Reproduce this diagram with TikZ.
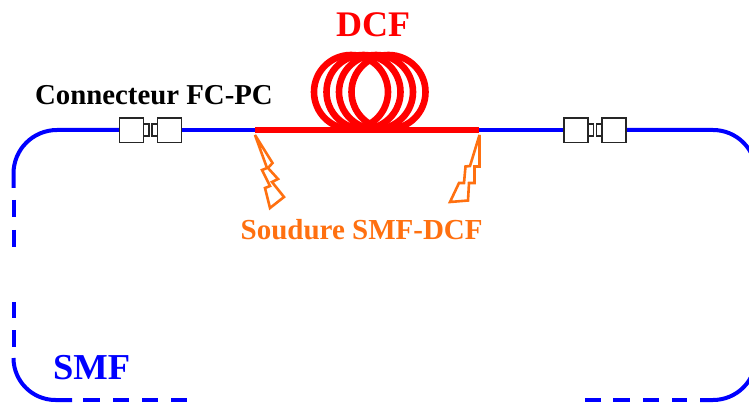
\documentclass[tikz,border=0pt]{standalone}
\usepackage{fontspec}
\setmainfont{Liberation Serif}
\definecolor{fib}{RGB}{0,0,255}
\definecolor{org}{RGB}{255,112,16}
\tikzset{
  smf/.style={draw=fib,line width=4pt},
  dcf/.style={draw=red,line width=6pt},
  conn/.style={draw=black!85,line width=1.3pt,fill=white},
  bolt/.style={draw=org,line width=2.6pt,line join=miter,miter limit=3},
  lab/.style={inner sep=0pt,anchor=base west,font=\bfseries}
}
\newcommand{\connector}[1]{%
  \begin{scope}[shift={(#1,0)}]
  \draw[conn] (0,118) rectangle (24,142.5);
  \draw[conn] (24,124) rectangle (29.7,136);
  \draw[conn] (32.7,124) rectangle (38,136);
  \draw[conn] (38,118) rectangle (62,142.5);
  \end{scope}}
\begin{document}
\begin{tikzpicture}[x=1pt,y=-1pt]
\useasboundingbox (0,0) rectangle (749,403);
\begin{scope}
\clip (0,0) rectangle (749,403);
% loops
\foreach \c in {351,363.5,376,388.5}{\draw[dcf,line width=6.6pt] (\c,92) circle[radius=37];}
% SMF
\draw[smf] (119,130) -- (57,130) arc[start angle=-90,end angle=-180,radius=43.5] -- (13.5,188);
\draw[smf] (13.5,200) -- (13.5,217);
\draw[smf] (13.5,230) -- (13.5,247);
\draw[smf] (13.5,302) -- (13.5,318);
\draw[smf] (13.5,330) -- (13.5,347);
\draw[smf] (13.5,358) arc[start angle=180,end angle=90,radius=42] -- (72,400);
\foreach \a/\b in {83/100,113/129,142/158,171/187,585/601,613/630,643/659,672/687}{\draw[smf] (\a,400) -- (\b,400);}
\draw[smf] (700,400) -- (713,400) arc[start angle=90,end angle=0,radius=43];
\draw[smf] (181,130) -- (255,130);
\draw[smf] (479,130) -- (564,130);
\draw[smf] (626,130) -- (713,130) arc[start angle=-90,end angle=0,radius=43];
\draw[dcf,line cap=butt] (255,130) -- (479,130);
\end{scope}
\connector{119.3}
\connector{564}
% bolts
\draw[bolt] (255,135) -- (272.5,163) -- (268,168) -- (278,179) -- (272,182) -- (284,197) -- (270,208) -- (265,188) -- (270,186) -- (262,170) -- (267,168) -- cycle;
\draw[bolt] (479.5,135) -- (479.5,166.5) -- (474.5,166.5) -- (474.5,183) -- (469,183) -- (468,200.5) -- (450,202) -- (459,183) -- (464,183) -- (465.5,166.5) -- (470,166) -- cycle;
% text
\node[lab,text=red,font=\fontsize{36}{36}\selectfont\bfseries] (d) at (336,37) {DCF};
\node[lab,text=black,font=\fontsize{28.8}{29}\selectfont\bfseries] (c) at (35,105) {Connecteur FC-PC};
\node[lab,text=org,font=\fontsize{29}{29}\selectfont\bfseries] (s) at (240.5,240) {Soudure SMF-DCF};
\node[lab,text=fib,font=\fontsize{36.5}{37}\selectfont\bfseries] (m) at (53,379) {SMF};
\end{tikzpicture}
\end{document}
